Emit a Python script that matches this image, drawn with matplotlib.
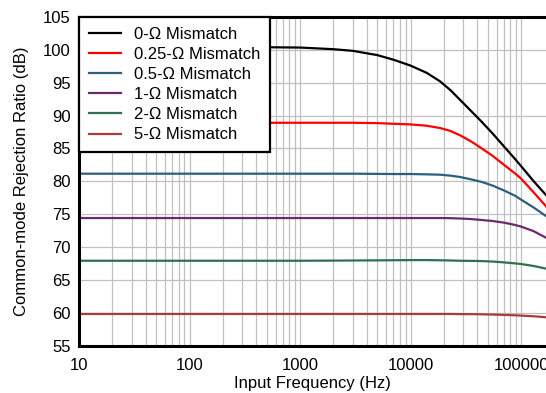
import matplotlib
matplotlib.use("Agg")
import matplotlib.pyplot as plt
from matplotlib.ticker import FixedLocator, NullFormatter

plt.rcParams["font.family"] = ["Liberation Sans", "DejaVu Sans"]
plt.rcParams["font.size"] = 12

# Frequências (Hz) e CMRR (dB)
freq = [10, 100, 1000, 2000, 3000, 5000, 7000, 10000, 14000, 18500,
        23000, 28000, 35000, 44000, 55000, 70000, 88000, 100000, 130000, 168000]

cmrr_0 = [100.5, 100.5, 100.35, 100.1, 99.85, 99.2, 98.5, 97.6, 96.5, 95.2,
          93.85, 92.4, 90.75, 89.05, 87.3, 85.3, 83.4, 82.3, 80.0, 77.9]
cmrr_025 = [88.9, 88.9, 88.9, 88.9, 88.9, 88.85, 88.75, 88.65, 88.45, 88.1,
            87.65, 87.0, 86.1, 85.0, 83.9, 82.5, 81.2, 80.4, 78.3, 76.2]
cmrr_05 = [81.15, 81.15, 81.15, 81.15, 81.15, 81.12, 81.1, 81.1, 81.05, 81.0,
           80.85, 80.65, 80.3, 79.9, 79.35, 78.6, 77.8, 77.2, 76.0, 74.7]
cmrr_1 = [74.4, 74.4, 74.4, 74.4, 74.4, 74.4, 74.4, 74.4, 74.4, 74.4,
          74.38, 74.33, 74.25, 74.1, 73.95, 73.7, 73.35, 73.1, 72.4, 71.4]
cmrr_2 = [67.9, 67.9, 67.9, 67.92, 67.94, 67.96, 67.98, 68.0, 68.0, 67.97,
          67.94, 67.9, 67.88, 67.85, 67.78, 67.65, 67.5, 67.4, 67.1, 66.7]
cmrr_5 = [59.8, 59.8, 59.8, 59.8, 59.8, 59.8, 59.8, 59.8, 59.8, 59.8,
          59.8, 59.78, 59.77, 59.75, 59.71, 59.66, 59.6, 59.55, 59.45, 59.3]

series = [
    ("0-\u03a9 Mismatch", cmrr_0, "#000000"),
    ("0.25-\u03a9 Mismatch", cmrr_025, "#ff0000"),
    ("0.5-\u03a9 Mismatch", cmrr_05, "#2b5f7c"),
    ("1-\u03a9 Mismatch", cmrr_1, "#6a2a6c"),
    ("2-\u03a9 Mismatch", cmrr_2, "#2e7050"),
    ("5-\u03a9 Mismatch", cmrr_5, "#a83c3c"),
]

fig = plt.figure(figsize=(5.46, 3.93), dpi=100)
ax = fig.add_axes([79 / 546, 1 - 345.5 / 393, 1 - 79 / 546, (345.5 - 17) / 393])

for label, vals, cor in series:
    ax.plot(freq, vals, color=cor, lw=1.6, label=label)

ax.set_xscale("log")
ax.set_xlim(10, 168000)
ax.set_ylim(55, 105)
ax.set_yticks(range(55, 106, 5))
ax.set_xticks([10, 100, 1000, 10000, 100000])
ax.set_xticklabels(["10", "100", "1000", "10000", "100000"])
minors = [m * 10 ** d for d in range(1, 6) for m in range(2, 10)]
ax.xaxis.set_minor_locator(FixedLocator(minors))
ax.xaxis.set_minor_formatter(NullFormatter())

ax.grid(True, which="both", axis="x", color="#c0c0c0", lw=0.9)
ax.grid(True, which="major", axis="y", color="#c0c0c0", lw=0.9)
ax.tick_params(which="both", length=0)
ax.tick_params(axis="y", pad=6)
ax.tick_params(axis="x", pad=9)

for s in ["left", "bottom", "top"]:
    ax.spines[s].set_linewidth(2.2)
    ax.spines[s].set_color("black")
ax.spines["right"].set_visible(False)

ax.set_xlabel("Input Frequency (Hz)", labelpad=2)
ax.set_ylabel("Common-mode Rejection Ratio (dB)", labelpad=10)

leg = ax.legend(loc="upper left", bbox_to_anchor=(0, 1), borderaxespad=0,
                fancybox=False, framealpha=1, edgecolor="black",
                handlelength=1.9, labelspacing=0.305, borderpad=0.6,
                handletextpad=0.8)
leg.get_frame().set_linewidth(1.6)

fig.savefig("out.png", dpi=100)
